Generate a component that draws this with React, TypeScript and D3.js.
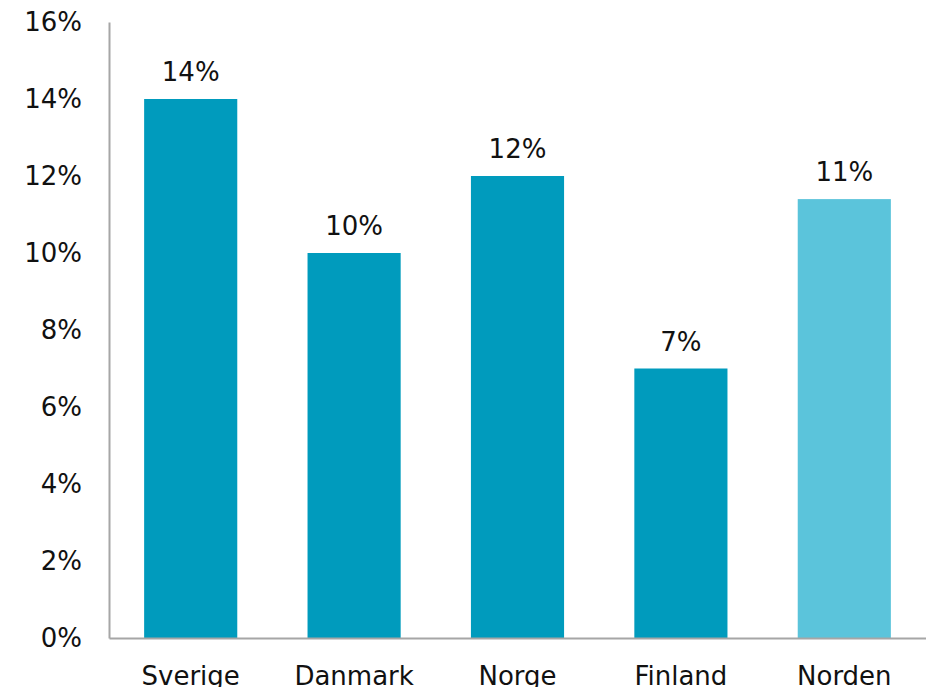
import { useRef, useEffect } from 'react';
import * as d3 from 'd3';

const WIDTH = 926;
const HEIGHT = 687;
const MARGIN = { top: 22, right: 0, bottom: 49, left: 109 };

const countries = ['Sverige', 'Danmark', 'Norge', 'Finland', 'Norden'];
const shares = [14.0, 10.0, 12.0, 7.0, 11.4];
const yTicks = [0, 2, 4, 6, 8, 10, 12, 14, 16];

const BAR_COLOR = '#009bbd';
const TOTAL_COLOR = '#5bc4db';
const AXIS_COLOR = '#a6a6a6';
const FONT = '"DejaVu Sans", Verdana, sans-serif';

const App = () => {
	const ref = useRef<SVGSVGElement>(null);

	useEffect(() => {
		const svg = d3.select(ref.current);
		svg.selectAll('*').remove();

		const innerH = HEIGHT - MARGIN.top - MARGIN.bottom;

		const x = d3.scaleBand<string>()
			.domain(countries)
			.range([MARGIN.left, WIDTH - MARGIN.right])
			.paddingInner(0.43)
			.paddingOuter(0.215);

		const y = d3.scaleLinear()
			.domain([0, 16])
			.range([MARGIN.top + innerH, MARGIN.top]);

		// bars
		svg.append('g')
			.selectAll('rect')
			.data(shares)
			.join('rect')
			.attr('x', (_, i) => x(countries[i])!)
			.attr('y', d => y(d))
			.attr('width', x.bandwidth())
			.attr('height', d => y(0) - y(d))
			.attr('fill', (_, i) => countries[i] === 'Norden' ? TOTAL_COLOR : BAR_COLOR);

		// value labels
		svg.append('g')
			.selectAll('text')
			.data(shares)
			.join('text')
			.attr('x', (_, i) => x(countries[i])! + x.bandwidth() / 2)
			.attr('y', d => y(d) - 18)
			.attr('text-anchor', 'middle')
			.attr('font-family', FONT)
			.attr('font-size', 26)
			.attr('fill', '#111')
			.text(d => `${Math.round(d)}%`);

		// y axis
		const yAxis = svg.append('g')
			.attr('transform', `translate(${MARGIN.left},0)`)
			.call(d3.axisLeft(y).tickValues(yTicks).tickSize(0).tickPadding(27).tickFormat(d => `${d}%`));
		yAxis.select('.domain').attr('stroke', AXIS_COLOR).attr('stroke-width', 2);
		yAxis.selectAll('text')
			.attr('font-family', FONT)
			.attr('font-size', 26)
			.attr('fill', '#111');

		// x axis
		const xAxis = svg.append('g')
			.attr('transform', `translate(0,${y(0)})`)
			.call(d3.axisBottom(x).tickSize(0).tickPadding(29));
		xAxis.select('.domain').attr('stroke', AXIS_COLOR).attr('stroke-width', 2);
		xAxis.selectAll('text')
			.attr('font-family', FONT)
			.attr('font-size', 26)
			.attr('fill', '#111');
	});

	return (
		<svg
			ref={ref}
			width={WIDTH}
			height={HEIGHT}
			style={{ position: 'absolute', left: 0, top: 0, background: '#fff' }}
		/>
	);
};

export default App;
